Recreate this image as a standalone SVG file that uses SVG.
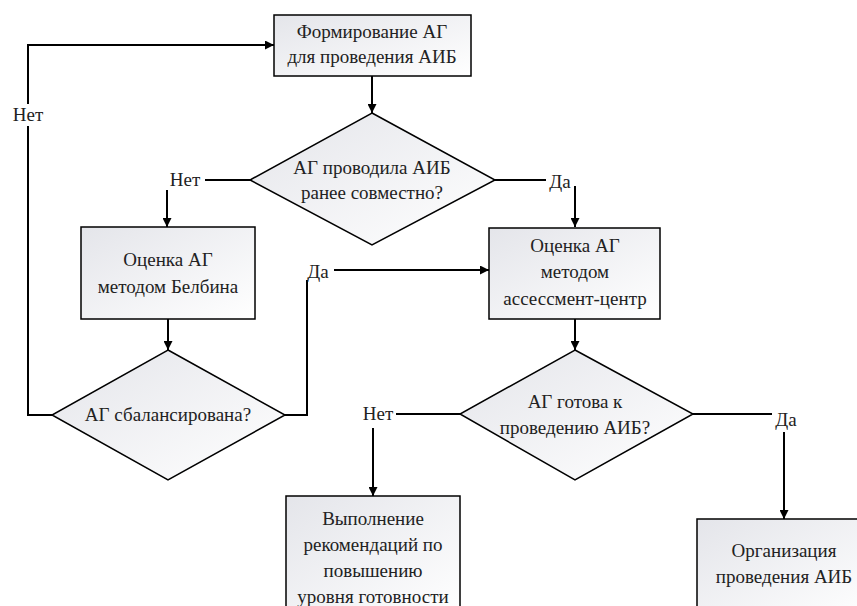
<svg xmlns="http://www.w3.org/2000/svg" width="857" height="606" viewBox="0 0 857 606" font-family="Liberation Serif, DejaVu Serif, serif">
<defs>
<linearGradient id="g" x1="0" y1="0" x2="1" y2="1">
<stop offset="0" stop-color="#e4e5ea"/>
<stop offset="1" stop-color="#ffffff"/>
</linearGradient>
<marker id="a" viewBox="0 0 10 10" refX="10" refY="5" markerWidth="9" markerHeight="9" markerUnits="userSpaceOnUse" orient="auto">
<path d="M0,0 L10,5 L0,10 z" fill="#000"/>
</marker>
</defs>
<style>
.n{fill:url(#g);stroke:#000;stroke-width:1.5}
.c{fill:none;stroke:#000;stroke-width:2}
.ca{fill:none;stroke:#000;stroke-width:2;marker-end:url(#a)}
text{font-size:19px;fill:#222;text-anchor:middle}
.l{fill:#fff}
</style>
<rect width="857" height="606" fill="#fff"/>
<g id="connectors">
<path class="ca" d="M372,76 V113"/>
<path class="c" d="M250,180 H205"/>
<path class="ca" d="M167,176 V227"/>
<path class="c" d="M495,180 H548"/>
<path class="ca" d="M575,186 V227"/>
<path class="ca" d="M168,319 V350"/>
<path class="ca" d="M52,415 H28 V45 H274"/>
<path class="ca" d="M285,415 H307 V270 H489"/>
<path class="ca" d="M575,319 V350"/>
<path class="c" d="M460,414 H395"/>
<path class="ca" d="M373,428 V496"/>
<path class="c" d="M693,414 H772"/>
<path class="ca" d="M784,432 V519"/>
<rect class="l" x="162" y="170" width="42" height="20"/>
<text x="185" y="186">Нет</text>
<rect class="l" x="8" y="104" width="40" height="22"/>
<text x="28" y="121">Нет</text>
<rect class="l" x="300" y="260" width="34" height="20"/>
<text x="318" y="278">Да</text>
<rect class="l" x="546" y="172" width="28" height="18"/>
<text x="560" y="188">Да</text>
<rect class="l" x="360" y="404" width="36" height="22"/>
<text x="378" y="420">Нет</text>
<rect class="l" x="772" y="408" width="28" height="24"/>
<text x="786" y="426">Да</text>
</g>
<g id="n1">
<rect class="n" x="274" y="15" width="197" height="61"/>
<text x="372" y="38">Формирование АГ</text>
<text x="372" y="63">для проведения АИБ</text>
</g>
<g id="n2">
<polygon class="n" points="372,113 495,180 372,245 250,180"/>
<text x="372" y="174">АГ проводила АИБ</text>
<text x="372" y="199">ранее совместно?</text>
</g>
<g id="n3">
<rect class="n" x="81" y="227" width="174" height="92"/>
<text x="168" y="266">Оценка АГ</text>
<text x="168" y="293">методом Белбина</text>
</g>
<g id="n4">
<polygon class="n" points="168,350 285,415 168,480 52,415"/>
<text x="168" y="421">АГ сбалансирована?</text>
</g>
<g id="n5">
<rect class="n" x="489" y="228" width="171" height="91"/>
<text x="575" y="252">Оценка АГ</text>
<text x="575" y="278">методом</text>
<text x="575" y="305">ассессмент-центр</text>
</g>
<g id="n6">
<polygon class="n" points="575,350 693,414 575,480 460,414"/>
<text x="575" y="408">АГ готова к</text>
<text x="575" y="434">проведению АИБ?</text>
</g>
<g id="n7">
<rect class="n" x="286" y="496" width="174" height="120"/>
<text x="373" y="525">Выполнение</text>
<text x="373" y="551">рекомендаций по</text>
<text x="373" y="577">повышению</text>
<text x="373" y="603">уровня готовности</text>
</g>
<g id="n8">
<rect class="n" x="697" y="519" width="174" height="100"/>
<text x="784" y="557">Организация</text>
<text x="784" y="583">проведения АИБ</text>
</g>
</svg>
